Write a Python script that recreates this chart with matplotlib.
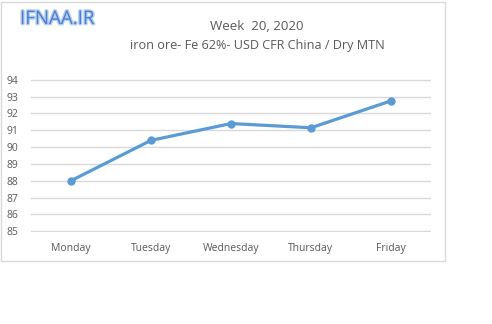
import matplotlib
matplotlib.use("Agg")
import matplotlib.pyplot as plt
import matplotlib.patheffects as pe
from matplotlib.patches import Rectangle

# weekly iron ore price, Fe 62%, USD CFR China per dry metric tonne
days = ["Monday", "Tuesday", "Wednesday", "Thursday", "Friday"]
prices = [88.0, 90.4, 91.4, 91.15, 92.75]
y_ticks = [85, 86, 87, 88, 89, 90, 91, 92, 93, 94]

plt.rcParams["font.family"] = ["Open Sans", "DejaVu Sans"]

W, H = 492, 324
fig = plt.figure(figsize=(W / 100, H / 100), dpi=100)
fig.patch.set_facecolor("white")

# chart frame
fig.patches.append(Rectangle((0.5 / W, 1 - 261 / H), 444 / W, 259 / H,
                             transform=fig.transFigure, fill=False,
                             edgecolor="#d9d9d9", linewidth=1.0))

ax = fig.add_axes([31 / W, 1 - 232 / H, 400 / W, 153 / H])
x = list(range(len(days)))
ax.plot(x, prices, color="#5b9bd5", linewidth=2.3, marker="o",
        markersize=5, solid_capstyle="round", zorder=3)

ax.set_xlim(-0.5, len(days) - 0.5)
ax.set_ylim(84.95, 94.05)
ax.set_yticks(y_ticks)
ax.set_xticks(x)
ax.set_xticklabels(days)
ax.grid(axis="y", color="#d9d9d9", linewidth=1.0)
ax.set_axisbelow(True)
for s in ax.spines.values():
    s.set_visible(False)
ax.tick_params(length=0, labelsize=7.5, colors="#595959")
ax.tick_params(axis="y", pad=9)
ax.tick_params(axis="x", pad=8)

fig.text(257 / W, 1 - 26 / H, "Week  20, 2020", ha="center", va="center",
         fontsize=9.5, color="#595959")
fig.text(257 / W, 1 - 45 / H, "iron ore- Fe 62%- USD CFR China / Dry MTN",
         ha="center", va="center", fontsize=9.1, color="#595959")

logo = fig.text(20 / W, 1 - 19 / H, "IFNAA.IR", ha="left", va="center",
                fontsize=13.5, color="#4a7fd0")
logo.set_path_effects([pe.withStroke(linewidth=2, foreground="#b4cdf0")])

fig.savefig("out.png", dpi=100)
